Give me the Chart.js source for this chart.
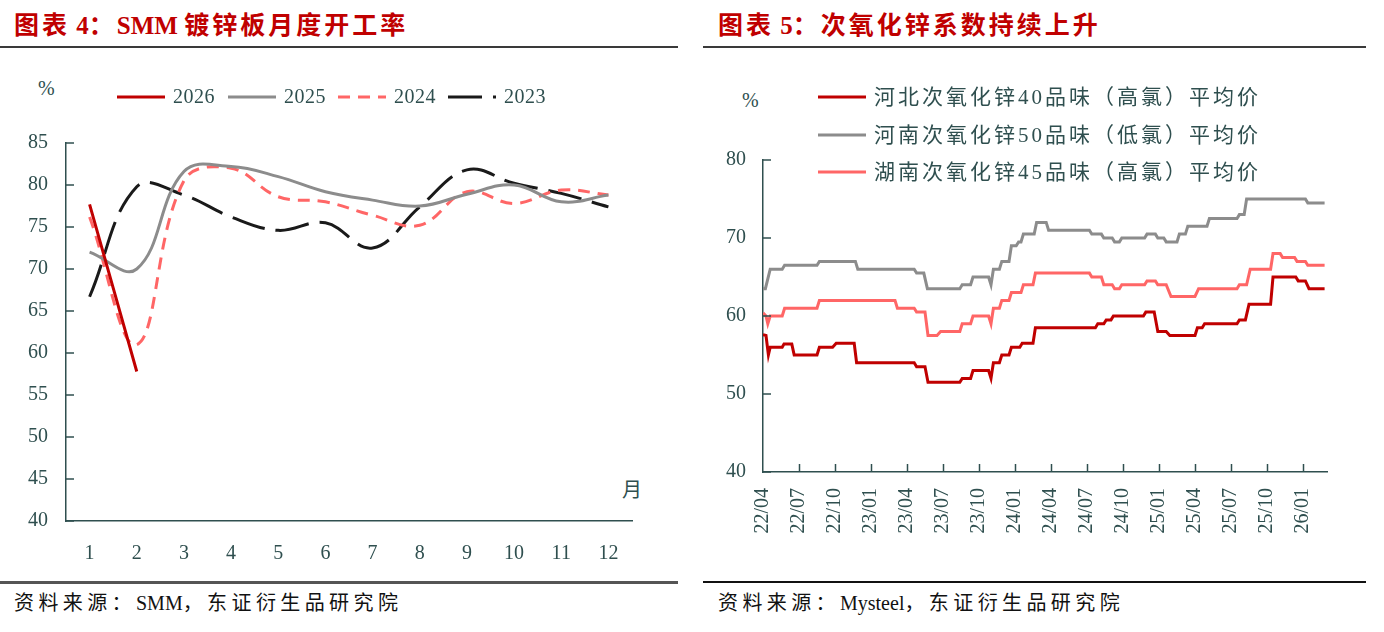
<!DOCTYPE html>
<html><head><meta charset="utf-8">
<script src="https://cdn.jsdelivr.net/npm/chart.js@4.4.1/dist/chart.umd.min.js"></script>
<style>
body{margin:0;width:1384px;height:632px;background:#fff;position:relative;overflow:hidden;font-family:'Liberation Serif','Noto Sans CJK SC',serif;}
.abs{position:absolute;white-space:nowrap;line-height:1;}
.title{color:#C00000;font-weight:bold;font-size:25px;top:13px;letter-spacing:3px;}
.rule{position:absolute;}
.src{font-size:20px;top:593px;color:#111;letter-spacing:4.4px;}
.lat{letter-spacing:0;}
.unit{font-size:20px;color:#2F4F4F;}
canvas{position:absolute;}
</style></head><body>
<div class="abs title" style="left:14px">图表<span class="lat"> 4</span>：<span class="lat">SMM </span>镀锌板月度开工率</div>
<div class="abs title" style="left:718px">图表<span class="lat"> 5</span>：次氧化锌系数持续上升</div>
<div class="rule" style="left:0;top:46px;width:678px;height:2px;background:#3a3a3a"></div>
<div class="rule" style="left:703px;top:46px;width:663px;height:2px;background:#3a3a3a"></div>
<div class="rule" style="left:0;top:581px;width:678px;height:3px;background:#555"></div>
<div class="rule" style="left:703px;top:581px;width:663px;height:2px;background:#111"></div>
<div class="abs src" style="left:14px">资料来源：<span class="lat">SMM</span>，东证衍生品研究院</div>
<div class="abs src" style="left:718px">资料来源：<span class="lat">Mysteel</span>，东证衍生品研究院</div>
<div class="abs unit" style="left:38px;top:78px">%</div>
<div class="abs unit" style="left:622px;top:480px">月</div>
<div class="abs unit" style="left:742px;top:90px">%</div>
<canvas id="c1" width="680" height="520" style="left:0;top:60px"></canvas>
<canvas id="c2" width="684" height="520" style="left:700px;top:60px"></canvas>
<script>
// ---- Left chart data (SMM galvanized sheet monthly operating rate, %) ----
const months = ['1','2','3','4','5','6','7','8','9','10','11','12'];
const rate2026 = [77.7, 57.8];
const rate2025 = [72.0, 70.0, 81.6, 82.2, 81.0, 79.2, 78.2, 77.5, 78.9, 80.0, 78.0, 78.8];
const rate2024 = [76.2, 61.0, 80.5, 82.0, 78.6, 78.0, 76.4, 75.2, 79.2, 77.8, 79.4, 78.8];
const rate2023 = [66.7, 79.8, 78.8, 76.2, 74.6, 75.5, 72.5, 77.4, 81.8, 80.2, 79.0, 77.4];

// ---- Right chart data: [months since 2022/04, value] ----
const priceTickLabels = ['22/04','22/07','22/10','23/01','23/04','23/07','23/10','24/01','24/04','24/07','24/10','25/01','25/04','25/07','25/10','26/01'];
const hebei40 = [[0,57.6],[0.25,57.5],[0.45,55.0],[0.6,56.0],[1.6,56.0],[1.75,56.4],[2.4,56.4],[2.6,55.0],[4.5,55.0],[4.7,56.0],[5.8,56.0],[6.1,56.5],[7.6,56.5],[7.8,54.0],[12.6,54.0],[12.8,53.5],[13.5,53.5],[13.75,51.5],[16.4,51.5],[16.6,52.0],[17.3,52.0],[17.5,53.0],[18.8,53.0],[19.0,52.0],[19.2,54.0],[19.7,54.0],[19.9,55.0],[20.5,55.0],[20.7,56.0],[21.4,56.0],[21.6,56.5],[22.5,56.5],[22.7,58.5],[27.7,58.5],[27.9,59.0],[28.4,59.0],[28.6,59.5],[29.0,59.5],[29.2,60.0],[31.7,60.0],[31.9,60.5],[32.6,60.5],[32.9,58.0],[33.6,58.0],[33.9,57.5],[36.0,57.5],[36.2,58.5],[36.6,58.5],[36.8,59.0],[39.5,59.0],[39.7,59.5],[40.2,59.5],[40.5,61.5],[42.3,61.5],[42.5,65.0],[44.4,65.0],[44.6,64.5],[45.2,64.5],[45.5,63.5],[46.8,63.5]];
const henan50 = [[0,63.5],[0.2,63.5],[0.6,66.0],[1.6,66.0],[1.8,66.5],[4.5,66.5],[4.7,67.0],[7.7,67.0],[7.9,66.0],[12.6,66.0],[12.8,65.5],[13.4,65.5],[13.7,63.5],[16.4,63.5],[16.6,64.0],[17.3,64.0],[17.5,65.0],[18.8,65.0],[19.0,64.0],[19.2,66.0],[19.7,66.0],[19.9,67.0],[20.5,67.0],[20.7,69.0],[21.1,69.0],[21.3,69.5],[21.5,69.5],[21.7,70.5],[22.6,70.5],[22.8,72.0],[23.6,72.0],[23.8,71.0],[27.2,71.0],[27.4,70.5],[28.2,70.5],[28.4,70.0],[29.1,70.0],[29.3,69.5],[29.7,69.5],[29.9,70.0],[31.8,70.0],[32.0,70.5],[32.7,70.5],[32.9,70.0],[33.4,70.0],[33.6,69.5],[34.5,69.5],[34.7,70.5],[35.2,70.5],[35.4,71.5],[37.0,71.5],[37.2,72.5],[39.5,72.5],[39.7,73.0],[40.1,73.0],[40.3,75.0],[45.2,75.0],[45.4,74.5],[46.8,74.5]];
const hunan45 = [[0,60.4],[0.25,60.0],[0.4,59.0],[0.6,60.0],[1.6,60.0],[1.8,61.0],[4.5,61.0],[4.7,62.0],[11.0,62.0],[11.2,61.0],[12.6,61.0],[12.8,60.5],[13.5,60.5],[13.75,57.5],[14.5,57.5],[14.8,58.0],[16.4,58.0],[16.6,59.0],[17.3,59.0],[17.5,60.0],[18.8,60.0],[19.0,59.0],[19.2,61.0],[19.7,61.0],[19.9,62.0],[20.5,62.0],[20.7,63.0],[21.5,63.0],[21.7,64.0],[22.5,64.0],[22.7,65.5],[27.2,65.5],[27.4,65.0],[28.2,65.0],[28.4,64.0],[29.1,64.0],[29.3,63.5],[29.7,63.5],[29.9,64.0],[31.8,64.0],[32.0,64.5],[32.7,64.5],[32.9,64.0],[33.6,64.0],[34.0,62.5],[36.0,62.5],[36.3,63.5],[39.5,63.5],[39.7,64.0],[40.3,64.0],[40.6,66.0],[42.3,66.0],[42.5,68.0],[43.1,68.0],[43.3,67.5],[44.3,67.5],[44.5,67.0],[45.2,67.0],[45.4,66.5],[46.8,66.5]];

const AX = '#2F4F4F';
const FONT = "'Liberation Serif','Noto Sans CJK SC',serif";

const legendPlugin = {
  id: 'customLegend',
  afterDraw(chart, args, o) {
    const ctx = chart.ctx;
    ctx.save();
    chart.data.datasets.forEach((ds, i) => {
      const it = o.items[i];
      ctx.beginPath();
      ctx.strokeStyle = ds.borderColor;
      ctx.lineWidth = ds.borderWidth;
      ctx.setLineDash(ds.borderDash || []);
      ctx.moveTo(it.x, it.y);
      ctx.lineTo(it.x + o.len, it.y);
      ctx.stroke();
      ctx.setLineDash([]);
      ctx.fillStyle = AX;
      ctx.font = o.font;
      if ('letterSpacing' in ctx) ctx.letterSpacing = o.spacing || '0px';
      ctx.textBaseline = 'middle';
      ctx.fillText(ds.label, it.x + o.len + o.gap, it.y + 1);
    });
    ctx.restore();
  }
};
const inTicks = {
  id: 'inTicks',
  afterDraw(chart, args, o) {
    const ctx = chart.ctx, a = chart.chartArea;
    ctx.save();
    ctx.strokeStyle = AX; ctx.lineWidth = 1.5;
    if (o.y) {
      const s = chart.scales.y;
      s.ticks.forEach((t, i) => { const p = Math.round(s.getPixelForTick(i)); ctx.beginPath(); ctx.moveTo(a.left, p); ctx.lineTo(a.left + o.y, p); ctx.stroke(); });
    }
    if (o.x) {
      const s = chart.scales.x;
      s.ticks.forEach((t, i) => { if (i === 0) return; const p = Math.round(s.getPixelForTick(i)) + 0.5; ctx.beginPath(); ctx.moveTo(p, a.bottom); ctx.lineTo(p, a.bottom - o.x); ctx.stroke(); });
    }
    ctx.restore();
  }
};

new Chart(document.getElementById('c1'), {
  type: 'line',
  data: {
    labels: months,
    datasets: [
      {label: '2026', data: rate2026, borderColor: '#C00000', borderWidth: 3, tension: 0.4},
      {label: '2025', data: rate2025, borderColor: '#8C8C8C', borderWidth: 3, tension: 0.4},
      {label: '2024', data: rate2024, borderColor: '#FF6666', borderWidth: 3, borderDash: [12, 8], tension: 0.4},
      {label: '2023', data: rate2023, borderColor: '#1A1A1A', borderWidth: 3, borderDash: [34, 11], tension: 0.4}
    ]
  },
  plugins: [legendPlugin, inTicks],
  options: {
    responsive: false, animation: false, devicePixelRatio: 1,
    elements: {point: {radius: 0}},
    layout: {padding: {left: 0, top: 83, right: 48, bottom: 0}},
    plugins: {
      legend: {display: false}, tooltip: {enabled: false},
      customLegend: {len: 48, gap: 8, font: "20px " + FONT, spacing: '0.5px', items: [{x:117,y:37},{x:228,y:37},{x:338,y:37},{x:448,y:37}]},
      inTicks: {y: 8}
    },
    scales: {
      x: {
        offset: true,
        grid: {display: false}, border: {display: true, color: AX, width: 1.5},
        ticks: {color: AX, font: {family: FONT, size: 20}, padding: 13, maxRotation: 0},
        afterFit: s => { s.height = 59; }
      },
      y: {
        min: 40, max: 85,
        grid: {display: false}, border: {display: true, color: AX, width: 1.5},
        ticks: {stepSize: 5, color: AX, font: {family: FONT, size: 20}, padding: 10},
        afterFit: s => { s.width = 66; }
      }
    }
  }
});

const toXY = arr => arr.map(p => ({x: p[0], y: p[1]}));
new Chart(document.getElementById('c2'), {
  type: 'line',
  data: {
    datasets: [
      {label: '河北次氧化锌40品味（高氯）平均价', data: toXY(hebei40), borderColor: '#C00000', borderWidth: 3},
      {label: '河南次氧化锌50品味（低氯）平均价', data: toXY(henan50), borderColor: '#8C8C8C', borderWidth: 3},
      {label: '湖南次氧化锌45品味（高氯）平均价', data: toXY(hunan45), borderColor: '#FF6666', borderWidth: 3}
    ]
  },
  plugins: [legendPlugin, inTicks],
  options: {
    responsive: false, animation: false, devicePixelRatio: 1,
    elements: {point: {radius: 0}, line: {tension: 0}},
    layout: {padding: {left: 0, top: 100, right: 57, bottom: 0}},
    plugins: {
      legend: {display: false}, tooltip: {enabled: false},
      customLegend: {len: 48, gap: 8, font: "21px " + FONT, spacing: '3px', items: [{x:118,y:37},{x:118,y:75},{x:118,y:112}]},
      inTicks: {y: 8, x: 8}
    },
    scales: {
      x: {
        type: 'linear', min: 0, max: 47,
        grid: {display: false}, border: {display: true, color: AX, width: 1.5},
        afterBuildTicks: s => { s.ticks = priceTickLabels.map((l, i) => ({value: i * 3})); },
        ticks: {color: AX, font: {family: FONT, size: 20}, padding: 8, minRotation: 90, maxRotation: 90, autoSkip: false,
          callback: (v) => priceTickLabels[Math.round(v / 3)]},
        afterFit: s => { s.height = 108; }
      },
      y: {
        min: 40, max: 80,
        grid: {display: false}, border: {display: true, color: AX, width: 1.5},
        ticks: {stepSize: 10, color: AX, font: {family: FONT, size: 20}, padding: 9},
        afterFit: s => { s.width = 63; }
      }
    }
  }
});
</script>
</body></html>
